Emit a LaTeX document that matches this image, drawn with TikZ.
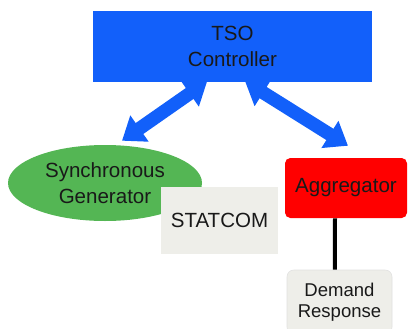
\documentclass[tikz,border=0pt]{standalone}
\usepackage{fontspec}
\setmainfont{Liberation Sans}
\usepackage{xcolor}
\usepackage{tikz}
\usetikzlibrary{calc, shapes.geometric, positioning, arrows.meta}

\definecolor{tsoblue}{RGB}{18,96,250}
\definecolor{gengreen}{RGB}{84,182,84}
\definecolor{boxgray}{RGB}{238,238,233}
\definecolor{txtdark}{RGB}{25,25,25}

\tikzset{
    unitbox/.style={inner sep=0pt, align=center, text=txtdark,
        font=\fontsize{15.4pt}{19.5pt}\selectfont},
    bigarrow/.style={tsoblue, line width=10pt,
        {Triangle[width=23pt,length=16pt]}-{Triangle[width=23pt,length=16pt]}}
}

\begin{document}
\begin{tikzpicture}[x=0.75pt, y=-0.75pt]
    \useasboundingbox (0,0) rectangle (408,329);

    % Vẽ các khối
    \node[unitbox, fill=tsoblue, minimum width=209.25pt, minimum height=53.25pt]
        (tso) at (232.5,46.5) {TSO\\Controller};
    \node[unitbox, ellipse, fill=gengreen, minimum width=145.5pt, minimum height=57pt]
        (gen) at (105,183) {Synchronous\\Generator};
    \node[unitbox, fill=boxgray, minimum width=87.75pt, minimum height=50pt]
        (statcom) at (219.5,220.5) {STATCOM};
    \node[unitbox, fill=red, rounded corners=4pt, minimum width=91.5pt, minimum height=45pt]
        (agg) at (346,188) {Aggregator};
    \node[unitbox, fill=boxgray, draw=black!12, rounded corners=5pt,
        minimum width=78.75pt, minimum height=48pt,
        font=\fontsize{13.9pt}{15.75pt}\selectfont]
        (dr) at (339.5,302) {Demand\\Response};

    % Vẽ các mũi tên
    \draw[bigarrow] ([xshift=-19pt, yshift=0.75pt]tso.south)
        -- ([xshift=12.75pt, yshift=3pt]gen.north);
    \draw[bigarrow] ([xshift=9.4pt, yshift=0.75pt]tso.south)
        -- ([xshift=1.5pt, yshift=9pt]agg.north);
    \draw[line width=3pt] ([xshift=-8.25pt]agg.south) -- ([xshift=-3.4pt]dr.north);

\end{tikzpicture}
\end{document}
